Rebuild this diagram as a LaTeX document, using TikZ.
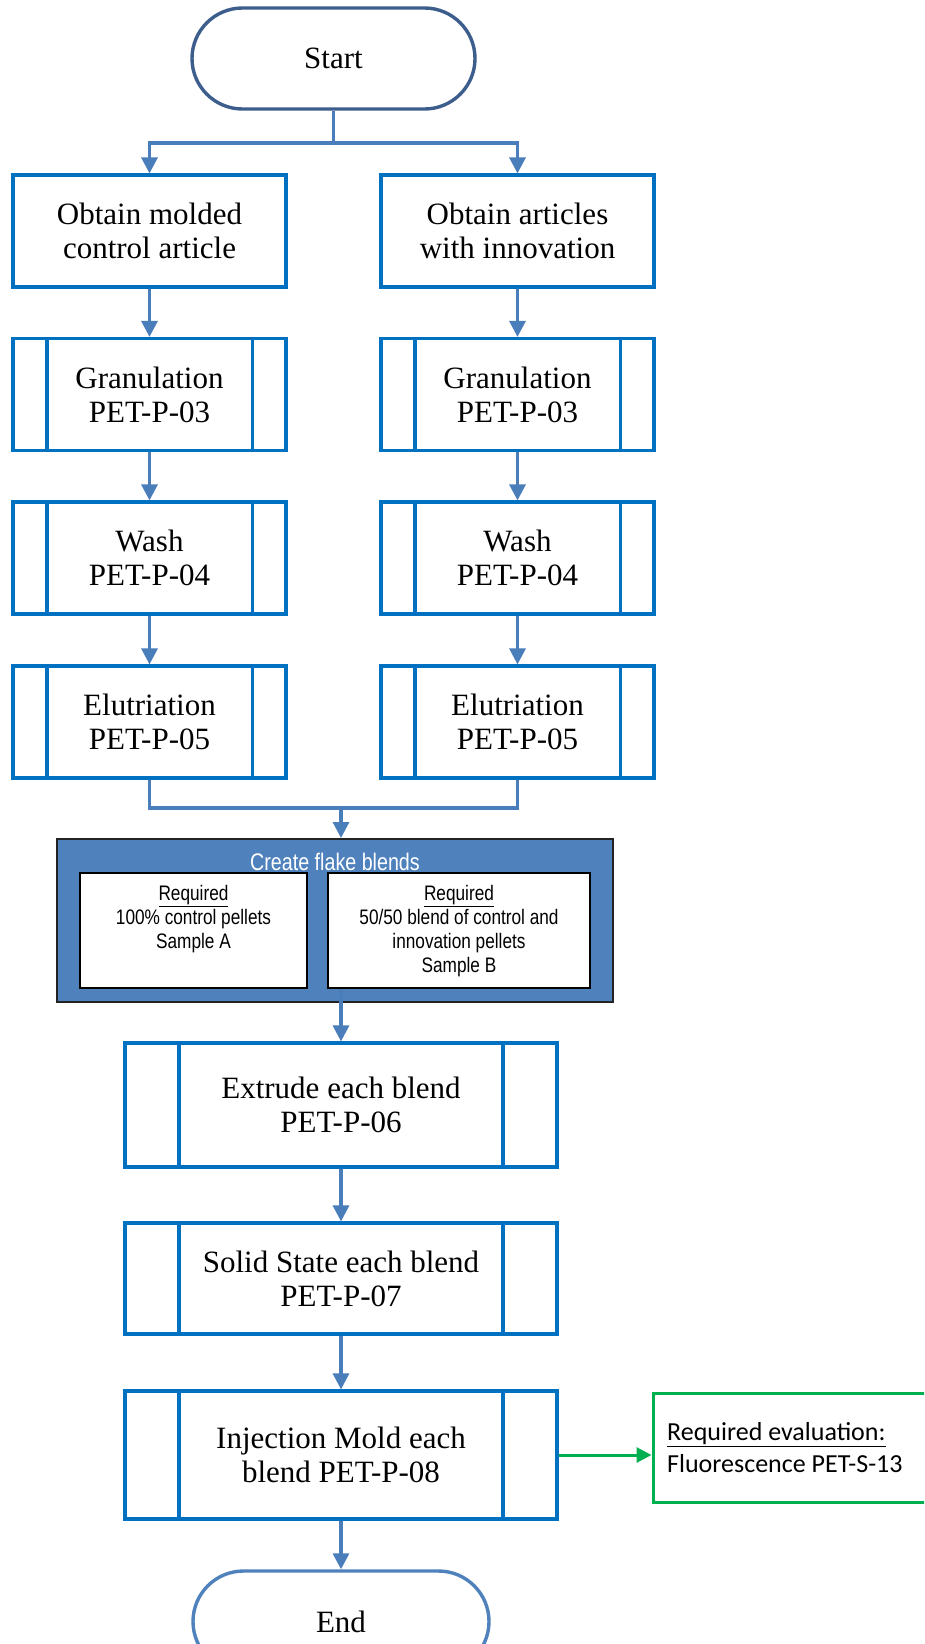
\documentclass[tikz,border=0pt]{standalone}
\usepackage{fontspec}
\setmainfont{Liberation Serif}
\newfontfamily\arialn[FakeStretch=0.82]{Liberation Sans}
\newfontfamily\calib{Carlito}
\usetikzlibrary{arrows.meta,shapes.misc,calc}
\definecolor{startc}{RGB}{61,94,140}
\definecolor{endc}{RGB}{79,129,189}
\definecolor{boxc}{RGB}{0,112,192}
\definecolor{connc}{RGB}{74,126,187}
\definecolor{flakec}{RGB}{79,129,189}
\definecolor{flakeb}{RGB}{35,35,35}
\definecolor{grn}{RGB}{0,176,80}
\newcommand{\procbars}[2]{%
  \draw[boxline] ([xshift=#2]#1.north west) -- ([xshift=#2]#1.south west);
  \draw[boxline] ([xshift=-#2]#1.north east) -- ([xshift=-#2]#1.south east);}
\begin{document}
\begin{tikzpicture}[x=1pt,y=-1pt,
  serifbig/.style={font=\fontsize{31}{34}\selectfont},
  proc/.style={draw=boxc, line width=3.2pt, fill=white, minimum width=273pt,
    minimum height=112pt, inner sep=0pt, align=center, serifbig},
  term/.style={rounded rectangle, line width=3.4pt, fill=white, inner sep=0pt, serifbig},
  boxline/.style={draw=boxc, line width=3.2pt},
  conn/.style={draw=connc, line width=3.2pt},
  arr/.style={conn, -{Triangle[length=16pt,width=16pt]}},
  garr/.style={draw=grn, line width=3pt, -{Triangle[length=15pt,width=15pt]}},
  innerbox/.style={draw=black, line width=2pt, fill=white, minimum height=115pt, inner sep=0pt},
  innertext/.style={anchor=north, inner sep=0pt, align=center, font=\arialn\fontsize{21}{24}\selectfont}
]
\useasboundingbox (0,0) rectangle (924,1644);
\clip (0,0) rectangle (924,1644);

% terminals
\node[term, draw=startc, minimum width=283pt, minimum height=101pt] (start) at (333.5,58.5) {Start};

% left column
\node[proc] (obL) at (149.5,231) {Obtain molded\\control article};
\node[proc] (grL) at (149.5,394.5) {Granulation\\PET-P-03};
\node[proc] (waL) at (149.5,558) {Wash\\PET-P-04};
\node[proc] (elL) at (149.5,722) {Elutriation\\PET-P-05};
% right column
\node[proc] (obR) at (517.5,231) {Obtain articles\\with innovation};
\node[proc] (grR) at (517.5,394.5) {Granulation\\PET-P-03};
\node[proc] (waR) at (517.5,558) {Wash\\PET-P-04};
\node[proc] (elR) at (517.5,722) {Elutriation\\PET-P-05};

\foreach \n in {grL,waL,elL,grR,waR,elR} {\procbars{\n}{35.5pt}}

% flake blends
\node[draw=flakeb, fill=flakec, line width=2pt, minimum width=556pt, minimum height=163pt, inner sep=0pt] (flake) at (335,920.5) {};
\node[anchor=base, inner sep=0pt, text=white, font=\arialn\fontsize{24}{27}\selectfont] (ftitle) at (335,870) {Create flake blends};
\node[innerbox, minimum width=227pt] (inL) at (193.5,930.5) {};
\node[innerbox, minimum width=262pt] (inR) at (459,930.5) {};
\node[innertext] (tL) at (193.5,885) {\underline{Required}\\100\% control pellets\\Sample A};
\node[innertext] (tR) at (459,885) {\underline{Required}\\50/50 blend of control and\\innovation pellets\\Sample B};

% central column
\node[proc, minimum width=432pt, minimum height=124pt] (ext) at (341,1105) {Extrude each blend\\PET-P-06};
\node[proc, minimum width=432pt, minimum height=111pt] (sol) at (341,1278.5) {Solid State each blend\\PET-P-07};
\node[proc, minimum width=432pt, minimum height=128pt] (inj) at (341,1455) {Injection Mold each\\blend PET-P-08};
\foreach \n in {ext,sol,inj} {\procbars{\n}{55.6pt}}

\node[term, draw=endc, minimum width=296pt, minimum height=101pt] (end) at (341,1621.5) {End};

% evaluation box
\node[draw=grn, line width=3pt, minimum width=287pt, minimum height=109pt, inner sep=0pt] (eval) at (796.5,1447.5) {};
\node[anchor=north west, inner sep=0pt, align=left, font=\calib\fontsize{26}{32}\selectfont] (evt) at (667,1422) {\underline{Required evaluation:}\\Fluorescence PET-S-13};

% connectors
\coordinate (split) at (333.5,143);
\draw[conn] (start.south) -- (split);
\draw[arr] (split) -| (obL.north);
\draw[arr] (split) -| (obR.north);
\draw[arr] (obL.south) -- (grL.north);
\draw[arr] (grL.south) -- (waL.north);
\draw[arr] (waL.south) -- (elL.north);
\draw[arr] (obR.south) -- (grR.north);
\draw[arr] (grR.south) -- (waR.north);
\draw[arr] (waR.south) -- (elR.north);
\coordinate (merge) at (341,808);
\draw[conn] (elL.south) |- (merge) -| (elR.south);
\draw[arr] (merge) -- (merge |- flake.north);
\draw[arr] (ext.north |- inR.south) -- (ext.north);
\draw[arr] (ext.south) -- (sol.north);
\draw[arr] (sol.south) -- (inj.north);
\draw[arr] (inj.south) -- (end.north);
\draw[garr] (inj.east) -- (inj.east -| eval.west);
\end{tikzpicture}
\end{document}
